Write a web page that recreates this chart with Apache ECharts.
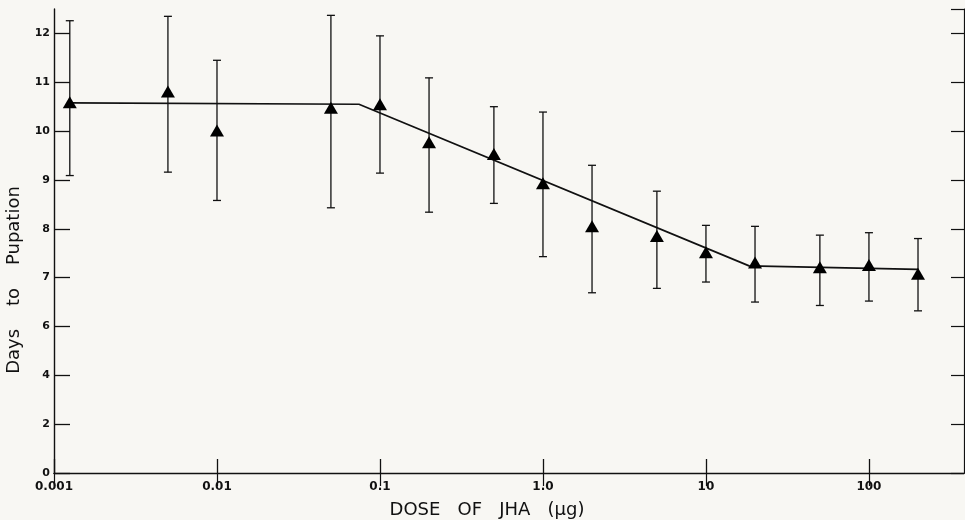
<!DOCTYPE html>
<html>
<head>
<meta charset="utf-8">
<script src="https://cdn.jsdelivr.net/npm/echarts@6/dist/echarts.min.js"></script>
<style>
  html, body { margin: 0; padding: 0; background: #f8f7f3; }
  #chart { width: 965px; height: 520px; }
</style>
</head>
<body>
<div id="chart"></div>
<script>
// dose (ug) and days to pupation
const doses = [0.00125, 0.005, 0.01, 0.05, 0.1, 0.2, 0.5, 1, 2, 5, 10, 20, 50, 100, 200]
const meanDays = [10.59, 10.81, 10.01, 10.48, 10.55, 9.77, 9.53, 8.93, 8.05, 7.85, 7.52, 7.31, 7.21, 7.26, 7.08]
const upperDays = [12.26, 12.35, 11.45, 12.37, 11.95, 11.09, 10.50, 10.39, 9.30, 8.77, 8.07, 8.05, 7.87, 7.92, 7.80]
const lowerDays = [9.09, 9.16, 8.58, 8.43, 9.14, 8.34, 8.52, 7.43, 6.69, 6.78, 6.91, 6.50, 6.43, 6.52, 6.32]

// fitted line (three segments)
const fitDoses = [0.00125, 0.0743, 18.4, 200]
const fitDays = [10.58, 10.55, 7.24, 7.17]

const xTickValues = [0.001, 0.01, 0.1, 1, 10, 100]
const xTickLabels = ['0.001', '0.01', '0.1', '1.0', '10', '100']
// y axis is broken: 0-6 drawn at half scale, 6-12 at full scale
const yTickLabels = ['0', '2', '4', '6', '7', '8', '9', '10', '11', '12']

function toAxis(y) {
  return y <= 6 ? y / 2 : y - 3
}

let myChart = echarts.init(document.getElementById('chart'))

const ink = '#111'
const labelFont = { color: ink, fontFamily: 'DejaVu Sans', fontWeight: 'bold', fontSize: 12 }

function xLabel(v) {
  for (let i = 0; i < xTickValues.length; i++) {
    if (Math.abs(Math.log10(v) - Math.log10(xTickValues[i])) < 1e-6) return xTickLabels[i]
  }
  return ''
}

function yLabel(v) {
  if (Math.abs(v - Math.round(v)) > 1e-6) return ''
  return yTickLabels[Math.round(v)] || ''
}

const xMin = 0.001
const xMax = 383

let opt = {
  backgroundColor: '#f8f7f3',
  animation: false,
  grid: { left: 54, right: 1, top: 9, bottom: 47, containLabel: false, outerBoundsMode: 'none' },
  xAxis: [
    {
      type: 'log',
      logBase: 10,
      min: xMin,
      max: xMax,
      name: 'DOSE   OF   JHA   (μg)',
      nameLocation: 'middle',
      nameGap: 28,
      nameTextStyle: { color: ink, fontFamily: 'DejaVu Sans', fontSize: 18, padding: [0, 44, 0, 0] },
      axisLine: { lineStyle: { color: ink, width: 1.4 } },
      axisTick: { inside: true, length: 14, customValues: xTickValues, lineStyle: { color: ink, width: 1.3 } },
      minorTick: { show: false },
      splitLine: { show: false },
      axisLabel: Object.assign({ margin: 8, formatter: xLabel, customValues: xTickValues }, labelFont)
    },
    {
      type: 'log',
      logBase: 10,
      position: 'top',
      min: xMin,
      max: xMax,
      axisLine: { lineStyle: { color: ink, width: 1.2 } },
      axisTick: { inside: true, length: 13, customValues: xTickValues, lineStyle: { color: ink, width: 1.2 } },
      splitLine: { show: false },
      axisLabel: { show: false }
    }
  ],
  yAxis: [
    {
      type: 'value',
      min: 0,
      max: 9.5,
      interval: 1,
      name: 'Days    to    Pupation',
      nameLocation: 'middle',
      nameGap: 26,
      nameRotate: 90,
      nameTextStyle: { color: ink, fontFamily: 'DejaVu Sans', fontSize: 18, padding: [0, 78, 0, 0] },
      axisLine: { show: true, lineStyle: { color: ink, width: 1.4 } },
      axisTick: { show: true, inside: true, length: 16, lineStyle: { color: ink, width: 1.3 } },
      splitLine: { show: false },
      axisLabel: Object.assign({ margin: 4, formatter: yLabel, showMaxLabel: false }, labelFont, { fontSize: 11 })
    },
    {
      type: 'value',
      position: 'right',
      min: 0,
      max: 9.5,
      interval: 1,
      axisLine: { show: true, lineStyle: { color: ink, width: 1.2 } },
      axisTick: { show: true, inside: true, length: 13, lineStyle: { color: ink, width: 1.2 } },
      splitLine: { show: false },
      axisLabel: { show: false }
    }
  ],
  series: [
    {
      // error bars
      type: 'custom',
      xAxisIndex: 0,
      yAxisIndex: 0,
      data: doses.map((d, i) => [d, toAxis(upperDays[i]), toAxis(lowerDays[i])]),
      renderItem: function (params, api) {
        const top = api.coord([api.value(0), api.value(1)])
        const bot = api.coord([api.value(0), api.value(2)])
        const w = 4
        const style = { stroke: ink, lineWidth: 1.3 }
        return {
          type: 'group',
          children: [
            { type: 'line', shape: { x1: top[0], y1: top[1], x2: bot[0], y2: bot[1] }, style: style },
            { type: 'line', shape: { x1: top[0] - w, y1: top[1], x2: top[0] + w, y2: top[1] }, style: style },
            { type: 'line', shape: { x1: bot[0] - w, y1: bot[1], x2: bot[0] + w, y2: bot[1] }, style: style }
          ]
        }
      },
      z: 2
    },
    {
      // fitted line
      type: 'line',
      data: fitDoses.map((d, i) => [d, toAxis(fitDays[i])]),
      showSymbol: false,
      lineStyle: { color: ink, width: 1.7 },
      z: 3
    },
    {
      // means
      type: 'scatter',
      data: doses.map((d, i) => [d, toAxis(meanDays[i])]),
      symbol: 'triangle',
      symbolSize: [14, 12],
      itemStyle: { color: '#000', opacity: 1 },
      z: 4
    }
  ]
}

myChart.setOption(opt)
</script>
</body>
</html>
